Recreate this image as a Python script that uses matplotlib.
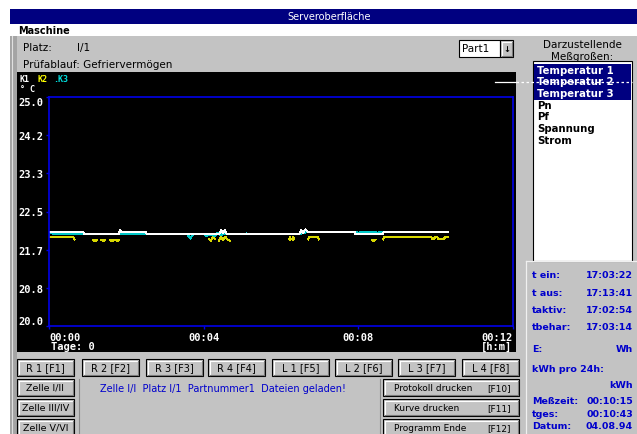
import numpy as np
import matplotlib
matplotlib.use('Agg')
from matplotlib import pyplot
from matplotlib.patches import Rectangle

nan = np.nan

# K1 (white) - time in minutes, temperature in deg C
t_k1 = [0.0, 0.88, 0.92, 1.80, 1.84, 1.88, 1.92, 2.50, 2.53, 4.40, 4.45, 4.50, 4.55, 4.60,
        6.47, 6.52, 6.57, 6.63, 6.68, 7.90, 7.93, 8.62, 8.66, 10.32]
v_k1 = [22.06, 22.06, 22.00, 22.00, 22.09, 22.05, 22.06, 22.06, 22.00, 22.00, 22.10, 22.02, 22.09, 22.00,
        22.00, 22.10, 22.03, 22.11, 22.06, 22.06, 22.00, 22.00, 22.06, 22.06]

# K2 (yellow), gaps where the curve is not drawn
t_k2 = [0.0, 0.62, 0.66, nan,
        1.15, 1.19, 1.23, nan, 1.36, 1.40, 1.44, nan, 1.59, 1.63, 1.67, nan, 1.72, 1.76, 1.80, nan,
        4.14, 4.18, 4.24, 4.30, nan, 4.40, 4.44, 4.50, 4.56, 4.62, 4.68, nan,
        6.21, 6.23, 6.26, nan, 6.30, 6.32, 6.34, nan,
        6.70, 6.73, 6.95, 6.98, nan,
        8.36, 8.40, 8.44, nan,
        8.64, 8.67, 9.88, 9.92, 9.96, 10.00, 10.04, 10.08, 10.14, 10.20, 10.26, 10.32]
v_k2 = [21.95, 21.95, 21.89, nan,
        21.88, 21.85, 21.88, nan, 21.88, 21.85, 21.88, nan, 21.88, 21.85, 21.88, nan, 21.88, 21.85, 21.88, nan,
        21.90, 21.86, 21.95, 21.90, nan, 21.86, 21.95, 21.87, 21.95, 21.88, 21.86, nan,
        21.89, 21.95, 21.89, nan, 21.89, 21.95, 21.89, nan,
        21.89, 21.95, 21.95, 21.89, nan,
        21.88, 21.85, 21.88, nan,
        21.89, 21.95, 21.95, 21.89, 21.91, 21.95, 21.95, 21.89, 21.91, 21.89, 21.95, 21.95]

# K3 (cyan)
t_k3 = [0.0, 0.03, 0.08, 0.10, 0.20, 0.23, 0.28, 0.31, 0.36, 3.58, 3.65, 3.72, 4.02, 4.05, 4.10, 4.13,
        4.30, 4.36, 4.42, 4.48, 5.08, 5.11, 5.14, 6.50, 6.56, 6.60, 6.64, 6.68, 7.95, 8.00, 8.05, 8.15, 8.20,
        8.25, 8.30, 8.35, 8.45, 8.50, 8.55, 10.32]
v_k3 = [22.00, 22.04, 22.04, 22.00, 22.00, 22.04, 22.00, 22.04, 22.00, 22.00, 21.91, 22.00, 22.00, 21.97, 21.97, 22.00,
        21.97, 22.04, 21.98, 22.00, 22.00, 22.02, 22.00, 22.00, 22.05, 22.02, 22.07, 22.06, 22.06, 22.02, 22.06, 22.06, 22.02,
        22.06, 22.02, 22.06, 22.06, 22.02, 22.06, 22.06]

ytick_labels = ['20.0', '20.8', '21.7', '22.5', '23.3', '24.2', '25.0']
xtick_min = [0, 4, 8, 12]
xtick_labels = ['00:00', '00:04', '00:08', '00:12']

list_items = ['Temperatur 1', 'Temperatur 2', 'Temperatur 3', 'Pn', 'Pf', 'Spannung', 'Strom']
n_selected = 3
info_labels = ['t ein:', 't aus:', 'taktiv:', 'tbehar:']
info_values = ['17:03:22', '17:13:41', '17:02:54', '17:03:14']
f_buttons = ['R 1 [F1]', 'R 2 [F2]', 'R 3 [F3]', 'R 4 [F4]', 'L 1 [F5]', 'L 2 [F6]', 'L 3 [F7]', 'L 4 [F8]']
zelle_buttons = ['Zelle I/II', 'Zelle III/IV', 'Zelle V/VI']
action_buttons = [('Protokoll drucken', '[F10]'), ('Kurve drucken', '[F11]'), ('Programm Ende', '[F12]')]

W, H = 637, 435
GRAY = '#c3c3c3'
NAVY = '#000080'
BLUE = '#0000cc'
FRAME = '#0000e8'
mono = 'DejaVu Sans Mono'

fig = pyplot.figure(figsize=(W/100, H/100), dpi=100)
bg = fig.add_axes([0, 0, 1, 1])
bg.set_xlim(0, W)
bg.set_ylim(H, 0)
bg.axis('off')


def rect(x0, y0, x1, y1, fc, ec='none', lw=0, z=1):
    bg.add_patch(Rectangle((x0, y0), x1-x0, y1-y0, fc=fc, ec=ec, lw=lw, zorder=z))


def button(x0, y0, x1, y1, z=2):
    rect(x0, y0, x1, y1, GRAY, '#000000', 0.8, z)
    bg.plot([x0+1.5, x1-1.5], [y0+1.5, y0+1.5], color='white', lw=0.8, zorder=z+0.1)
    bg.plot([x0+1.5, x0+1.5], [y0+1.5, y1-1.5], color='white', lw=0.8, zorder=z+0.1)
    bg.plot([x0+1.5, x1-1.5], [y1-1.5, y1-1.5], color='#7a7a7a', lw=0.8, zorder=z+0.1)
    bg.plot([x1-1.5, x1-1.5], [y0+1.5, y1-1.5], color='#7a7a7a', lw=0.8, zorder=z+0.1)


# window
rect(10, 10, W, H, GRAY)
rect(10, 10, W, 25, NAVY)
bg.text(329, 17.5, 'Serveroberfläche', color='white', ha='center', va='center', fontsize=7)
rect(10, 25, W, 37, 'white')
bg.text(18, 31, 'Maschine', color='black', ha='left', va='center', fontsize=7, fontweight='bold')
rect(10, 37, 17, H, '#a4a4a4')
bg.plot([12, 12], [37, H], color='#e0e0e0', lw=0.8)

bg.text(23, 48, 'Platz:', ha='left', va='center', fontsize=7.5)
bg.text(77, 48, 'I/1', ha='left', va='center', fontsize=7.5)
bg.text(23, 65, 'Prüfablauf: Gefriervermögen', ha='left', va='center', fontsize=7.5)

# Part dropdown
rect(459, 41, 500, 58, 'white', '#000000', 0.8, 2)
bg.text(462, 49.5, 'Part1', ha='left', va='center', fontsize=7.5, zorder=3)
button(500, 41, 513, 58)
bg.text(506.5, 49.5, '\u2193', ha='center', va='center', fontsize=6, fontweight='bold', zorder=4)

# list of measured quantities
bg.text(582, 45, 'Darzustellende', ha='center', va='center', fontsize=7.5)
bg.text(582, 57, 'Meßgroßen:', ha='center', va='center', fontsize=7.5)
rect(533, 62, 632, 262, 'white', '#000000', 0.8, 2)
rect(534, 64.5, 631, 100.5, NAVY, z=2.5)
for i, s in enumerate(list_items):
    col = 'white' if i < n_selected else 'black'
    bg.text(537, 70.7 + i*11.7, s, color=col, ha='left', va='center', fontsize=7.3,
            fontweight='bold', zorder=3)

# black chart panel
rect(17, 72.5, 516, 353, 'black', z=1.5)
bg.text(20, 80, 'K1', color='white', ha='left', va='center', fontsize=6, family=mono, fontweight='bold', zorder=3)
bg.text(38, 80, 'K2', color='#ffff00', ha='left', va='center', fontsize=6, family=mono, fontweight='bold', zorder=3)
bg.text(53, 80, '.K3', color='#00e0e0', ha='left', va='center', fontsize=6, family=mono, fontweight='bold', zorder=3)
bg.text(20, 90, '° C', color='white', ha='left', va='center', fontsize=6, family=mono, fontweight='bold', zorder=3)
bg.text(51, 347, 'Tage: 0', color='white', ha='left', va='center', fontsize=7.5, family=mono, fontweight='bold', zorder=3)
bg.text(512, 347, '[h:m]', color='white', ha='right', va='center', fontsize=7.5, family=mono, fontweight='bold', zorder=3)
bg.plot([495, 516], [83, 83], color='white', lw=0.9, zorder=4)
bg.plot([516, 632], [83, 83], color='white', lw=0.9, ls=(0, (2, 2)), zorder=4)

# function key buttons
for i, s in enumerate(f_buttons):
    x0 = [17, 82, 146, 208, 272, 335, 398, 462][i]
    button(x0, 360, x0+57, 377)
    bg.text(x0+28.5, 368.5, s, ha='center', va='center', fontsize=7, zorder=4)
for i, s in enumerate(zelle_buttons):
    y0 = 380 + i*20
    button(17, y0, 74, y0+17)
    bg.text(45.5, y0+8.5, s, ha='center', va='center', fontsize=6.8, zorder=4)
for i, (s, k) in enumerate(action_buttons):
    y0 = 380 + i*20
    button(383, y0, 519, y0+17)
    bg.text(394, y0+8.5, s, ha='left', va='center', fontsize=6.5, zorder=4)
    bg.text(511, y0+8.5, k, ha='right', va='center', fontsize=6.5, zorder=4)
bg.plot([79, 79], [380, H], color='#8a8a8a', lw=0.8)
bg.plot([380, 380], [380, H], color='#8a8a8a', lw=0.8)
bg.text(100, 389, 'Zelle I/I  Platz I/1  Partnummer1  Dateien geladen!', color=BLUE,
        ha='left', va='center', fontsize=7)

# info panel
bg.plot([526, 526], [262, H], color='#f0f0f0', lw=0.9)
bg.plot([526, W], [262, 262], color='#f0f0f0', lw=0.9)
iy = [276, 293.5, 311, 328]
for y, s, v in zip(iy, info_labels, info_values):
    bg.text(532, y, s, color=BLUE, ha='left', va='center', fontsize=6.8, fontweight='bold')
    bg.text(633, y, v, color=BLUE, ha='right', va='center', fontsize=6.8, fontweight='bold')
bg.text(532, 350, 'E:', color=BLUE, ha='left', va='center', fontsize=6.8, fontweight='bold')
bg.text(633, 350, 'Wh', color=BLUE, ha='right', va='center', fontsize=6.8, fontweight='bold')
bg.text(532, 370, 'kWh pro 24h:', color=BLUE, ha='left', va='center', fontsize=6.8, fontweight='bold')
bg.text(633, 386, 'kWh', color=BLUE, ha='right', va='center', fontsize=6.8, fontweight='bold')
for y, s, v in zip([402, 414.5, 427], ['Meßzeit:', 'tges:', 'Datum:'], ['00:10:15', '00:10:43', '04.08.94']):
    bg.text(532, y, s, color=BLUE, ha='left', va='center', fontsize=6.8, fontweight='bold')
    bg.text(633, y, v, color=BLUE, ha='right', va='center', fontsize=6.8, fontweight='bold')

# chart
ax = fig.add_axes([49/W, (H-327)/H, 464/W, 229/H])
ax.set_facecolor('black')
ax.plot(t_k2, v_k2, color='#d8d800', lw=0.7, antialiased=False)
ax.plot(t_k3, v_k3, color='#00c8c8', lw=0.7, antialiased=False)
ax.plot(t_k1, v_k1, color='white', lw=0.7, antialiased=False)
ax.set_xlim(0, 12)
ax.set_ylim(20, 25)
ax.set_yticks(np.linspace(20, 25, len(ytick_labels)))
ax.set_yticklabels(ytick_labels)
ax.set_xticks(xtick_min)
ax.set_xticklabels(xtick_labels)
for sp in ax.spines.values():
    sp.set_color(FRAME)
    sp.set_linewidth(1.2)
ax.tick_params(colors=FRAME, length=2.5, width=1, direction='out', pad=1.5)
for lab in ax.get_yticklabels() + ax.get_xticklabels():
    lab.set_color('white')
    lab.set_fontfamily(mono)
    lab.set_fontweight('bold')
    lab.set_fontsize(7.5)
ylabs = ax.get_yticklabels()
ylabs[0].set_va('bottom')
ylabs[-1].set_va('top')
xlabs = ax.get_xticklabels()
xlabs[0].set_ha('left')
xlabs[-1].set_ha('right')

pyplot.savefig('out.png', dpi=100)
